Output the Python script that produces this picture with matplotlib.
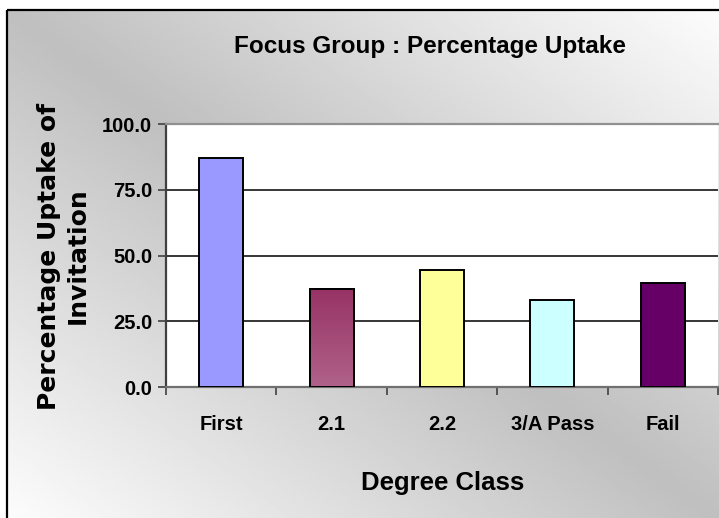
import numpy as np
import matplotlib
matplotlib.use("Agg")
import matplotlib.pyplot as plt
from matplotlib.patches import Rectangle
from matplotlib.colors import LinearSegmentedColormap

# Data
categories = ["First", "2.1", "2.2", "3/A Pass", "Fail"]
uptake = [87.1, 37.5, 44.7, 33.3, 39.7]
bar_colors = ["#9999ff", "#993366", "#ffff99", "#ccffff", "#660066"]
y_ticks = [0.0, 25.0, 50.0, 75.0, 100.0]

title = "Focus Group : Percentage Uptake"
x_label = "Degree Class"
y_label = "Percentage Uptake of\nInvitation"

SANS = ["Liberation Sans", "DejaVu Sans"]

W, H = 719, 518
fig = plt.figure(figsize=(W / 100, H / 100), dpi=100)
fig.patch.set_facecolor("white")

# Diagonal gradient background inside the chart frame
bg = fig.add_axes([0, 0, 1, 1], zorder=0)
bg.set_xlim(0, W)
bg.set_ylim(H, 0)
bg.axis("off")
fx0, fy0 = 7, 10
gx = np.linspace(0, 1, 400)
gy = np.linspace(0, 1, 300)
U, V = np.meshgrid(gx, gy)
s = np.abs(U - V)
gray, white = 0.75, 0.99
shade = gray + (white - gray) * s
bg.imshow(shade, cmap="gray", vmin=0, vmax=1, extent=(fx0, W + 2, H + 2, fy0),
          aspect="auto", interpolation="bilinear", zorder=0)
bg.add_patch(Rectangle((fx0, fy0), W, H, fill=False, edgecolor="black",
                       linewidth=1.6, zorder=2))

# Plot area
ax = fig.add_axes([166 / W, 1 - 387.3 / H, (718 - 166) / W, (387.3 - 124) / H], zorder=1)
ax.set_facecolor("white")
x = np.arange(len(categories))
bars = ax.bar(x, uptake, width=0.4, color=bar_colors, edgecolor="black",
              linewidth=1.4, zorder=3)

# Vertical shading on the 2.1 bar
b = bars[1]
cmap21 = LinearSegmentedColormap.from_list("c21", ["#b0628a", "#973365"])
grad = np.linspace(0, 1, 256).reshape(-1, 1)
im = ax.imshow(grad, cmap=cmap21, origin="lower", aspect="auto",
               extent=(b.get_x(), b.get_x() + b.get_width(), 0, b.get_height()),
               zorder=3.5)
im.set_clip_path(b)
ax.add_patch(Rectangle((b.get_x(), 0), b.get_width(), b.get_height(), fill=False,
                       edgecolor="black", linewidth=1.4, zorder=4))

ax.set_xlim(-0.5, len(categories) - 0.5)
ax.set_ylim(0, 100)
ax.set_yticks(y_ticks)
ax.set_yticklabels([f"{v:.1f}" for v in y_ticks], fontfamily=SANS,
                   fontweight="bold", fontsize=14.5)
ax.set_xticks(x)
ax.set_xticklabels(categories, fontfamily=SANS, fontweight="bold", fontsize=14.5)
ax.tick_params(axis="x", length=0, pad=20)
ax.set_xticks(np.arange(-0.5, len(categories)), minor=True)
ax.tick_params(axis="x", which="minor", length=6, width=1.2, color="#404040")
ax.tick_params(axis="y", length=6, width=1.2, color="#404040", pad=4)

ax.yaxis.grid(True, color="black", linewidth=1.1, zorder=1)
ax.set_axisbelow(True)

ax.spines["left"].set_color("#404040")
ax.spines["left"].set_linewidth(1.6)
ax.spines["bottom"].set_color("#707070")
ax.spines["bottom"].set_linewidth(1.6)
ax.spines["top"].set_color("#909090")
ax.spines["top"].set_linewidth(1.6)
ax.spines["right"].set_visible(False)

fig.text(430 / W, 1 - 47 / H, title, ha="center", va="center",
         fontfamily=SANS, fontweight="bold", fontsize=17.5)
fig.text(443 / W, 1 - 483 / H, x_label, ha="center", va="center",
         fontfamily=SANS, fontweight="bold", fontsize=18.5)
fig.text(63 / W, 1 - 256 / H, y_label, ha="center", va="center", rotation=90,
         fontfamily=["DejaVu Sans"], fontweight="bold", fontsize=18,
         linespacing=1.25)

fig.savefig("out.png", dpi=100, facecolor="white")
